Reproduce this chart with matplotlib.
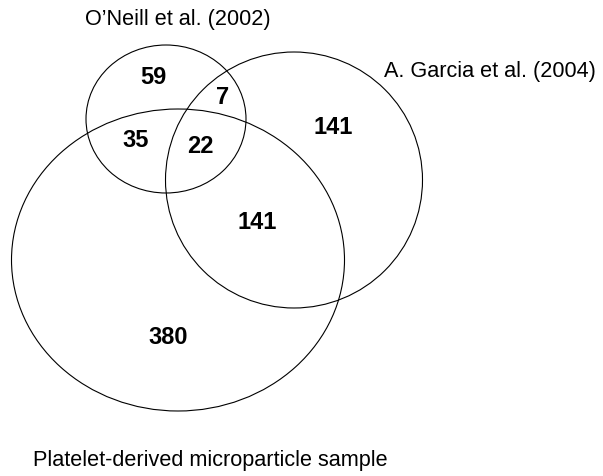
import matplotlib
matplotlib.use("Agg")
import matplotlib.pyplot as plt
from matplotlib.patches import Ellipse

plt.rcParams['font.family'] = ['Liberation Sans', 'DejaVu Sans']

# data
set_names = ["O\u2019Neill et al. (2002)", "A. Garcia et al. (2004)",
             "Platelet-derived microparticle sample"]
region_counts = [59, 7, 35, 22, 141, 141, 380]

# layout (pixel coords of the 603x477 picture)
ell_cx = [166, 294, 178]
ell_cy = [120, 181, 261]
ell_w = [160, 257, 333]
ell_h = [148, 256, 302]
name_xy = [(178, 19, 'center'), (384, 72, 'left'), (33, 461, 'left')]
count_xy = [(153, 78), (223, 97), (136, 141), (200, 147),
            (333, 127), (257, 223), (168, 338)]

fig = plt.figure(figsize=(6.03, 4.77), dpi=100)
ax = fig.add_axes([0, 0, 1, 1])
ax.set_xlim(0, 603)
ax.set_ylim(477, 0)
ax.axis('off')

for cx, cy, w, h in zip(ell_cx, ell_cy, ell_w, ell_h):
    ax.add_patch(Ellipse((cx, cy), w, h, fill=False, edgecolor='black', lw=0.8))

for name, (x, y, ha) in zip(set_names, name_xy):
    ax.text(x, y, name, ha=ha, va='center', fontsize=15.6, color='black')

for n, (x, y) in zip(region_counts, count_xy):
    ax.text(x, y, str(n), ha='center', va='center', fontsize=17,
            fontweight='bold', color='black')

fig.savefig('out.png', dpi=100)
